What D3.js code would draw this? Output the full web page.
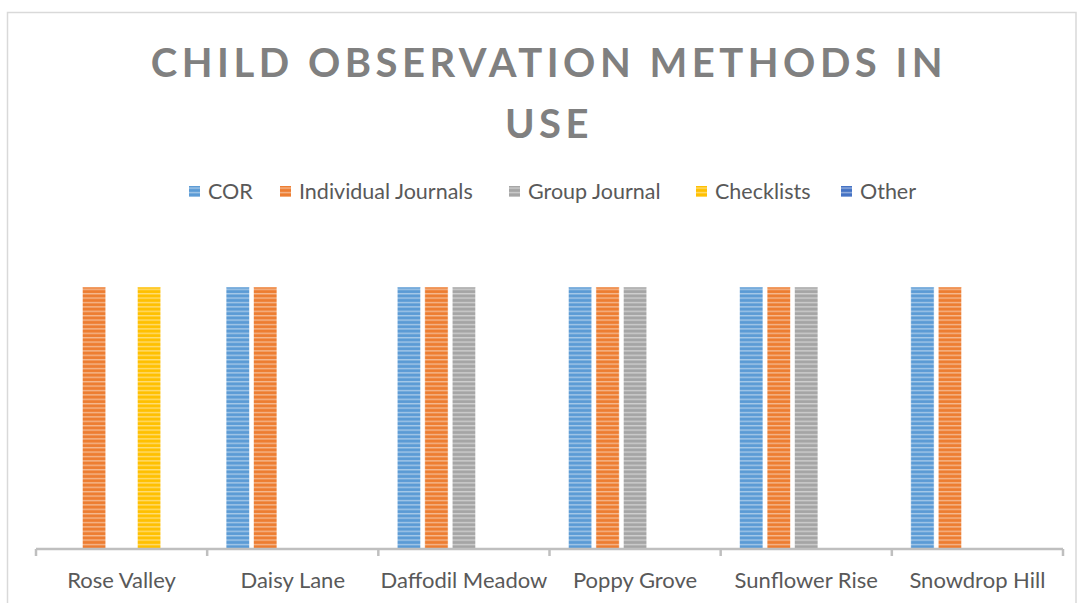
<!DOCTYPE html>
<html><head><meta charset="utf-8">
<script src="https://cdn.jsdelivr.net/npm/d3@7"></script>
<style>html,body{margin:0;padding:0;background:#fff;}svg{display:block;}</style>
</head><body>
<script>
const categories = ["Rose Valley","Daisy Lane","Daffodil Meadow","Poppy Grove","Sunflower Rise","Snowdrop Hill"];
const seriesNames = ["COR","Individual Journals","Group Journal","Checklists","Other"];
const seriesColors = ["#5B9BD5","#ED7D31","#A5A5A5","#FFC000","#4472C4"];
const cor        = [0,1,1,1,1,1];
const individual = [1,1,1,1,1,1];
const group      = [0,0,1,1,1,0];
const checklists = [1,0,0,0,0,0];
const other      = [0,0,0,0,0,0];
const seriesValues = [cor, individual, group, checklists, other];
const titleLines = ["CHILD OBSERVATION METHODS IN","USE"];

const W = 1077, H = 603;
const svg = d3.select("body").append("svg").attr("width", W).attr("height", H);
const defs = svg.append("defs");

// striped patterns
seriesColors.forEach((c, i) => {
  const p = defs.append("pattern").attr("id","pat"+i).attr("patternUnits","userSpaceOnUse")
    .attr("width", 4).attr("height", 4.4);
  p.append("rect").attr("width",4).attr("height",4.4).attr("fill", c);
  p.append("rect").attr("y",2.6).attr("width",4).attr("height",1.4).attr("fill", d3.interpolateRgb(c,"#fff")(0.45));
});

// chart border
svg.append("rect").attr("x",7.5).attr("y",12.5).attr("width",1068.5).attr("height",600)
  .attr("fill","none").attr("stroke","#d9d9d9").attr("stroke-width",1.5);

// title
const title = svg.append("text").attr("text-anchor","middle")
  .attr("font-family","Lato, 'Open Sans', sans-serif").attr("font-weight","bold")
  .attr("font-size",40).attr("fill","#808080").attr("letter-spacing","4.5px");
titleLines.forEach((t,i)=>{
  title.append("tspan").attr("x",549).attr("y",77 + i*61).text(t);
});

// scales
const plotLeft = 36, plotRight = 1063, baseY = 549, topY = 234.6;
const x0 = d3.scaleBand().domain(categories).range([plotLeft, plotRight]).paddingInner(0).paddingOuter(0);
const x1 = d3.scaleBand().domain(seriesNames).range([0, x0.bandwidth()]).paddingInner(0.153).paddingOuter(0.689);
const y = d3.scaleLinear().domain([0, 1.2]).range([baseY, topY]);

// bars
const g = svg.append("g");
categories.forEach((cat, ci) => {
  seriesNames.forEach((s, si) => {
    const v = seriesValues[si][ci];
    if (!v) return;
    g.append("rect")
      .attr("x", x0(cat) + x1(s))
      .attr("y", y(v))
      .attr("width", x1.bandwidth())
      .attr("height", y(0) - y(v))
      .attr("fill", `url(#pat${si})`)
      .attr("stroke", "#fff").attr("stroke-opacity",0.6).attr("stroke-width",0.8);
  });
});

// x axis
const axis = svg.append("g").attr("transform",`translate(0,${baseY})`);
axis.append("line").attr("x1",plotLeft).attr("x2",plotRight).attr("stroke","#bfbfbf").attr("stroke-width",2.5);
const bounds = categories.map(c => x0(c)).concat([plotRight]);
axis.selectAll("line.tick").data(bounds).enter().append("line")
  .attr("x1", d=>d).attr("x2", d=>d).attr("y1",0).attr("y2",7)
  .attr("stroke","#bfbfbf").attr("stroke-width",2.5);
axis.selectAll("text").data(categories).enter().append("text")
  .attr("x", d => x0(d) + x0.bandwidth()/2).attr("y", 39)
  .attr("text-anchor","middle").attr("font-family","Lato, 'Open Sans', sans-serif")
  .attr("font-size",22).attr("fill","#595959").text(d=>d);

// legend
const legendX = [189, 280, 509, 696, 841];
const lg = svg.append("g");
seriesNames.forEach((s,i)=>{
  lg.append("rect").attr("x",legendX[i]).attr("y",186).attr("width",11).attr("height",11).attr("fill",`url(#pat${i})`);
  lg.append("text").attr("x",legendX[i]+19).attr("y",198.5)
    .attr("font-family","Lato, 'Open Sans', sans-serif").attr("font-size",21.5).attr("fill","#595959").text(s);
});
</script>
</body></html>
